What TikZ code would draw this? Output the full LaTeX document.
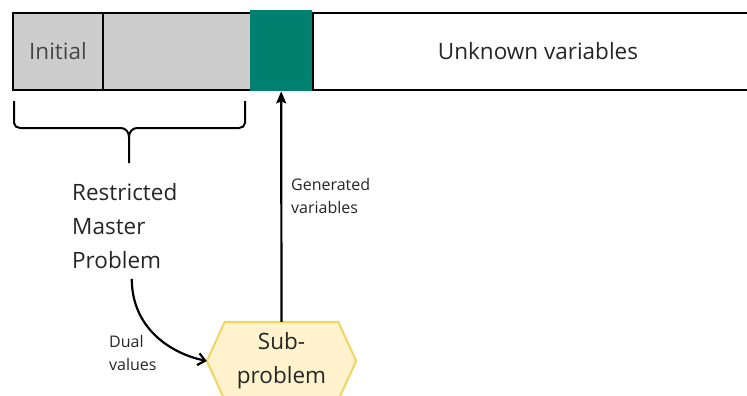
\documentclass[tikz,border=0pt]{standalone}
\usepackage{fontspec}
\setmainfont{Open Sans}
\usetikzlibrary{arrows.meta,backgrounds}
\definecolor{cellgray}{HTML}{CDCDCD}
\definecolor{teal}{HTML}{00806F}
\definecolor{hexfill}{HTML}{FFF2CC}
\definecolor{hexline}{HTML}{EFD663}
\definecolor{ink}{HTML}{262626}
\tikzset{
  cell/.style={draw=black, line width=2pt, minimum height=77pt, inner sep=0pt, anchor=north west, text=ink},
  bigtext/.style={font=\fontsize{22.5}{34}\selectfont, text=ink, inner sep=0pt},
  smalltext/.style={font=\fontsize{16}{23}\selectfont, text=ink, inner sep=0pt, align=left, anchor=west},
  link/.style={line width=2.2pt, black},
}
\begin{document}
\begin{tikzpicture}[x=1pt, y=-1pt]
\clip (0,0) rectangle (747,396);

% variable bar
\node[cell, fill=cellgray, minimum width=90pt, text=ink!85!white] (init) at (12,12)
  {\fontsize{22.5}{26}\selectfont Initial};
\node[cell, fill=cellgray, minimum width=148pt] (rest) at (102,12) {};
\node[cell, fill=white, minimum width=450pt] (unk) at (312,12)
  {\fontsize{22.5}{26}\selectfont Unknown variables};
\node[fill=teal, minimum width=62pt, minimum height=81pt, inner sep=0pt, anchor=north west] (gen) at (250,10) {};

% brace under the initial columns
\draw[line width=2pt, line join=round]
  (14,101) -- (14,123) to[out=-90,in=180] (20,128) -- (121,128)
  to[out=0,in=90] (129,137) -- (129,163);
\draw[line width=2pt, line join=round]
  (245,101) -- (245,123) to[out=-90,in=0] (239,128) -- (137,128)
  to[out=180,in=90] (129,137);

% restricted master problem
\node[bigtext, align=left, anchor=west] (rmp) at (72,226)
  {Restricted\\Master\\Problem};

% subproblem
\node[bigtext, align=center, minimum width=149pt, minimum height=78pt] (sub) at (281.5,361)
  {Sub-\\problem};
\begin{scope}[on background layer]
\fill[white] (0,0) rectangle (747,396);
\fill[hexfill, draw=hexline, line width=2pt, line join=miter]
  (sub.west) -- ([xshift=18pt]sub.north west) -- ([xshift=-18pt]sub.north east)
  -- (sub.east) -- ([xshift=-18pt]sub.south east) -- ([xshift=18pt]sub.south west) -- cycle;
\end{scope}

% connectors
\coordinate (dualstart) at ([xshift=7pt,yshift=-10pt]rmp.south);
\draw[link, -{Straight Barb[length=7pt,width=12pt,line width=2.2pt]}]
  (dualstart) .. controls +(0,48) and +(-38,-8) .. (sub.west);
\draw[link, -{Stealth[length=12pt,width=10pt,inset=2pt]}] (sub.north) -- (gen.south);

% labels
\node[smalltext] (genlbl) at (291,196) {Generated\\variables};
\node[smalltext] (duallbl) at (109,353) {Dual\\values};
\end{tikzpicture}
\end{document}
